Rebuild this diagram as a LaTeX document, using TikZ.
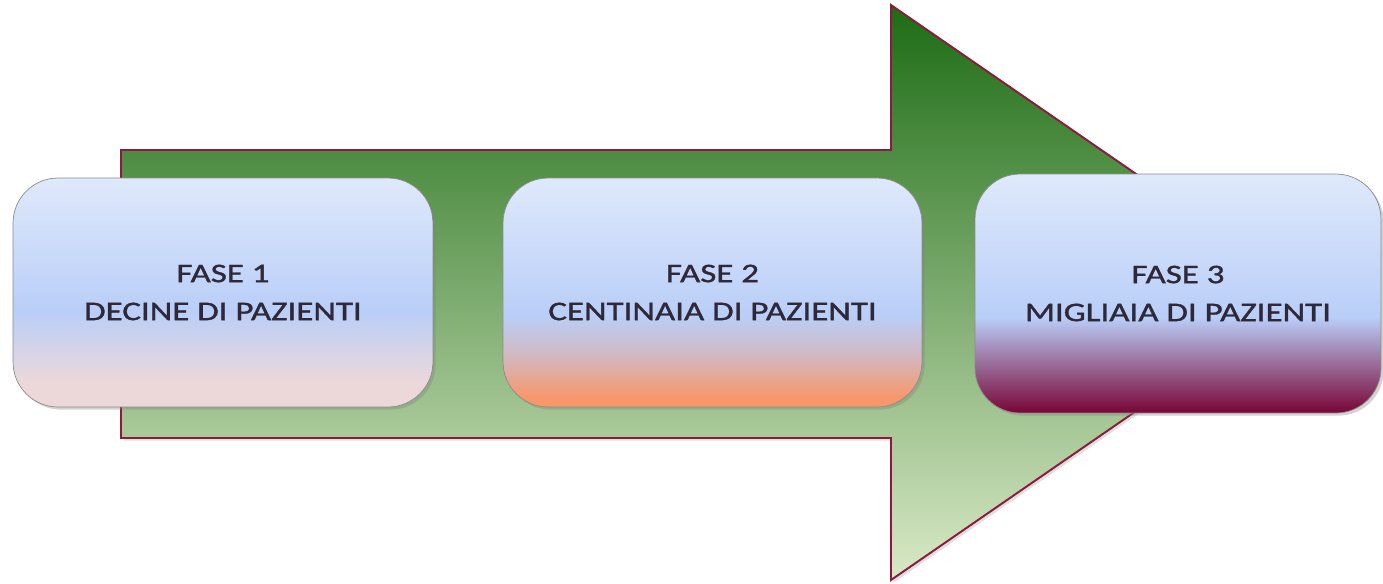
\documentclass[tikz,border=0pt]{standalone}
\usepackage{fontspec}
\setmainfont{Carlito}[FakeStretch=1.3, FakeBold=1.2]
\usetikzlibrary{shadows}
\definecolor{arrowtop}{HTML}{1D6C15}
\definecolor{arrowbot}{HTML}{D9E9C6}
\definecolor{arrowline}{HTML}{8A1B3E}
\definecolor{boxtop}{HTML}{DFE9FB}
\definecolor{boxmid}{HTML}{B9CEF8}
\definecolor{pinkbot}{HTML}{EDD8D9}
\definecolor{orangebot}{HTML}{F8976A}
\definecolor{wine}{HTML}{780535}
\definecolor{textgray}{HTML}{2E2838}
% box shadings (25bp = bottom of box, 75bp = top)
\pgfdeclareverticalshading{fasepink}{100bp}{color(0bp)=(pinkbot); color(25bp)=(pinkbot);
	color(30bp)=(pinkbot); color(46bp)=(boxmid); color(75bp)=(boxtop); color(100bp)=(boxtop)}
\pgfdeclareverticalshading{faseorange}{100bp}{color(0bp)=(orangebot); color(25bp)=(orangebot);
	color(27bp)=(orangebot); color(37bp)=(orangebot!35!boxmid); color(45bp)=(boxmid);
	color(75bp)=(boxtop); color(100bp)=(boxtop)}
\pgfdeclareverticalshading{fasewine}{100bp}{color(0bp)=(wine); color(25bp)=(wine);
	color(36bp)=(wine!45!boxmid); color(45bp)=(boxmid); color(75bp)=(boxtop);
	color(100bp)=(boxtop)}
\begin{document}
\begin{tikzpicture}[x=0.02cm, y=-0.02cm, font=\fontsize{15.3}{21.6}\selectfont,
	fasebox/.style={draw=black!45, line width=0.4pt, rounded corners=0.9cm,
		align=center, text=textgray, shading=#1,
		drop shadow={shadow xshift=1.5pt, shadow yshift=-1.5pt, opacity=0.35}}]
	\useasboundingbox (0,0) rectangle (1383,583);
	%arrow
	\draw[arrowline, line width=1.1pt, top color=arrowtop, bottom color=arrowbot,
		drop shadow={shadow xshift=1.5pt, shadow yshift=-1.5pt, opacity=0.25}]
	(121,150) -- (891,150) -- (891,5) -- (1308,292.5)
	-- (891,580) -- (891,438) -- (121,438) -- cycle;
	%boxes
	\node[fasebox=fasepink, minimum width=8.4cm, minimum height=4.58cm]
	(fase1) at (223,292.5) {FASE 1\\DECINE DI PAZIENTI};
	\node[fasebox=faseorange, minimum width=8.38cm, minimum height=4.58cm]
	(fase2) at (712.5,292.5) {FASE 2\\CENTINAIA DI PAZIENTI};
	\node[fasebox=fasewine, minimum width=8.12cm, minimum height=4.78cm]
	(fase3) at (1178,293.5) {FASE 3\\MIGLIAIA DI PAZIENTI};
\end{tikzpicture}
\end{document}
